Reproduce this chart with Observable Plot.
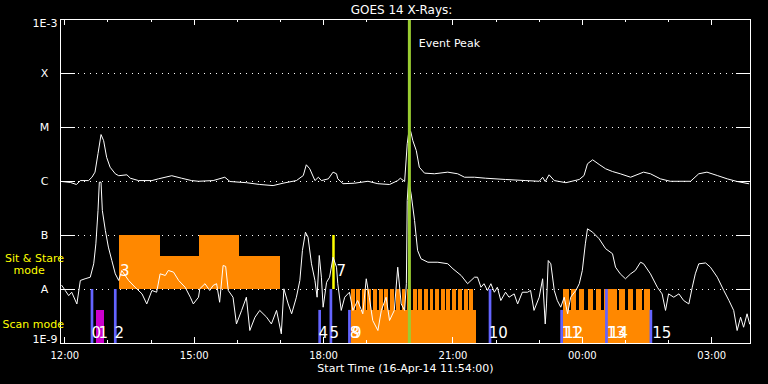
<!DOCTYPE html>
<html><head><meta charset="utf-8">
<script src="https://cdn.jsdelivr.net/npm/d3@7"></script>
<script src="https://cdn.jsdelivr.net/npm/@observablehq/plot@0.6"></script>
<style>html,body{margin:0;padding:0;background:#000;}</style>
</head><body><div id="chart"></div>
<script>
// time in hours since 16-Apr-14 12:00 ; flux in W/m^2
const longChannel = [[-0.07,1.0e-6],[0.13,9.6e-7],[0.27,8.8e-7],[0.36,1.04e-6],[0.55,1.04e-6],[0.63,1.2e-6],[0.70,1.49e-6],[0.77,3.3e-6],[0.84,7.4e-6],[0.90,5.7e-6],[0.97,2.8e-6],[1.05,1.84e-6],[1.17,1.39e-6],[1.25,1.28e-6],[1.44,1.33e-6],[1.52,1.15e-6],[1.71,1.04e-6],[2.02,1.04e-6],[2.17,1.12e-6],[2.48,1.28e-6],[2.71,1.15e-6],[2.94,1.04e-6],[3.10,1.01e-6],[3.44,1.04e-6],[3.71,1.2e-6],[3.83,1.0e-6],[4.21,9.5e-7],[4.52,8.8e-7],[4.83,8.4e-7],[5.06,9.3e-7],[5.37,1.04e-6],[5.53,1.29e-6],[5.60,2.04e-6],[5.68,1.72e-6],[5.80,1.04e-6],[5.88,1.2e-6],[5.95,1.04e-6],[6.11,1.12e-6],[6.22,1.49e-6],[6.30,1.39e-6],[6.33,1.12e-6],[6.45,9.1e-7],[6.72,9.3e-7],[7.03,1.01e-6],[7.26,9.1e-7],[7.53,8.8e-7],[7.72,1.04e-6],[7.78,1.15e-6],[7.88,1.0e-6],[7.94,5.0e-6],[7.97,7.6e-6],[8.02,8.5e-6],[8.07,5.7e-6],[8.15,3.75e-6],[8.22,1.84e-6],[8.34,1.43e-6],[8.57,1.39e-6],[8.88,1.49e-6],[9.11,1.39e-6],[9.27,1.2e-6],[9.50,1.2e-6],[9.76,1.15e-6],[10.22,1.09e-6],[10.69,1.04e-6],[11.00,1.01e-6],[11.08,1.2e-6],[11.14,1.0e-6],[11.23,1.33e-6],[11.35,1.04e-6],[11.62,9.5e-7],[11.93,1.09e-6],[12.04,1.29e-6],[12.12,2.13e-6],[12.24,2.52e-6],[12.39,2.07e-6],[12.54,1.72e-6],[12.70,1.53e-6],[12.88,1.39e-6],[13.12,1.2e-6],[13.42,1.49e-6],[13.58,1.39e-6],[13.81,1.12e-6],[14.04,1.01e-6],[14.51,1.01e-6],[14.70,1.39e-6],[14.89,1.49e-6],[15.13,1.29e-6],[15.36,1.12e-6],[15.59,1.0e-6],[15.86,9.1e-7]];

const shortChannel = [[-0.07,1.19e-8],[0.01,9.6e-9],[0.09,7.7e-9],[0.16,8.9e-9],[0.28,5.4e-9],[0.36,1.47e-8],[0.47,1.58e-8],[0.59,1.69e-8],[0.67,2.99e-8],[0.72,7.0e-8],[0.77,2.9e-7],[0.80,9.7e-7],[0.84,9.7e-7],[0.87,2.9e-7],[0.94,1.24e-7],[1.01,6.1e-8],[1.09,3.44e-8],[1.17,1.95e-8],[1.25,1.47e-8],[1.32,2.25e-8],[1.48,1.47e-8],[1.63,1.1e-8],[1.79,8.3e-9],[1.90,5.4e-9],[2.02,9.6e-9],[2.13,8.9e-9],[2.21,1.95e-8],[2.33,1.82e-8],[2.40,2.25e-8],[2.52,2.1e-8],[2.64,1.47e-8],[2.79,1.1e-8],[2.91,7.2e-9],[2.98,5.4e-9],[3.10,7.2e-9],[3.13,1.03e-8],[3.25,1.28e-8],[3.36,9.6e-9],[3.44,1.19e-8],[3.52,1.28e-8],[3.59,5.8e-9],[3.67,2.78e-8],[3.73,2.68e-8],[3.79,9.6e-9],[3.90,7.2e-9],[3.98,2.3e-9],[4.10,4.1e-9],[4.21,7.2e-9],[4.29,1.74e-9],[4.41,3.07e-9],[4.52,4.1e-9],[4.68,3.07e-9],[4.79,2.3e-9],[4.91,4.1e-9],[5.02,1.51e-9],[5.08,1.03e-8],[5.18,5.4e-9],[5.26,3.55e-9],[5.37,7.2e-9],[5.45,1.47e-8],[5.51,5.3e-8],[5.58,1.15e-7],[5.64,9.3e-8],[5.72,2.99e-8],[5.80,1.47e-8],[5.85,7.2e-9],[5.90,4.27e-8],[5.95,1.69e-8],[5.99,4.7e-9],[6.07,1.36e-8],[6.14,1.69e-8],[6.22,3.96e-8],[6.30,2.59e-8],[6.33,1.28e-8],[6.41,4.1e-9],[6.49,7.2e-9],[6.60,8.9e-9],[6.68,4.1e-9],[6.79,6.25e-9],[6.91,3.55e-9],[6.99,1.58e-8],[7.06,7.2e-9],[7.14,2.67e-9],[7.26,1.74e-9],[7.34,4.1e-9],[7.45,7.2e-9],[7.53,2.67e-9],[7.64,4.1e-9],[7.72,2.59e-8],[7.80,5.4e-9],[7.88,4.1e-9],[7.92,1.28e-8],[7.94,4.45e-7],[7.97,1.04e-6],[8.03,5.9e-7],[8.11,1.9e-7],[8.18,5.3e-8],[8.26,3.7e-8],[8.42,3.2e-8],[8.65,3.2e-8],[8.88,3.0e-8],[9.00,2.42e-8],[9.19,1.82e-8],[9.34,1.28e-8],[9.42,1.47e-8],[9.50,1.69e-8],[9.57,1.69e-8],[9.65,1.1e-8],[9.72,1.28e-8],[9.80,9.6e-9],[9.88,1.28e-8],[9.96,8.9e-9],[10.03,1.1e-8],[10.11,6.25e-9],[10.22,8.9e-9],[10.30,7.2e-9],[10.42,8.3e-9],[10.50,5.4e-9],[10.61,8.9e-9],[10.73,8.9e-9],[10.80,9.6e-9],[10.88,4.1e-9],[11.00,7.2e-9],[11.08,1.58e-8],[11.14,2.3e-9],[11.17,5.4e-9],[11.21,3.44e-8],[11.27,2.99e-8],[11.35,9.6e-9],[11.42,6.25e-9],[11.50,4.7e-9],[11.58,7.2e-9],[11.66,3.55e-9],[11.73,7.2e-9],[11.85,9.6e-9],[11.93,1.28e-8],[12.00,2.25e-8],[12.07,7.0e-8],[12.12,1.33e-7],[12.24,1.15e-7],[12.39,8.7e-8],[12.54,5.7e-8],[12.70,4.6e-8],[12.77,2.59e-8],[12.88,1.95e-8],[13.00,1.58e-8],[13.12,1.95e-8],[13.23,2.25e-8],[13.35,3.2e-8],[13.42,3.0e-8],[13.58,1.95e-8],[13.74,1.1e-8],[13.85,8.3e-9],[13.93,4.1e-9],[14.00,8.3e-9],[14.12,7.2e-9],[14.24,8.3e-9],[14.35,6.25e-9],[14.47,5.4e-9],[14.55,1.1e-8],[14.62,1.95e-8],[14.70,2.99e-8],[14.86,3.1e-8],[14.97,2.59e-8],[15.13,1.69e-8],[15.28,9.6e-9],[15.40,6.25e-9],[15.51,4.1e-9],[15.59,1.74e-9],[15.67,3.07e-9],[15.74,2.0e-9],[15.82,3.55e-9],[15.88,2.3e-9]];

const yLevels = [1e-3,1e-4,1e-5,1e-6,1e-7,1e-8,1e-9];
const yLabels = ["1E-3","X","M","C","B","A","1E-9"];
const xTickHours = [0,3,6,9,12,15];
const xTickLabels = ["12:00","15:00","18:00","21:00","00:00","03:00"];
const minorHours = [1,2,4,5,7,8,10,11,13,14];

// observation modes: [start, end, top]
const sitStareBlocks = [[1.27,2.21,1e-7],[2.21,3.13,4.1e-8],[3.13,4.06,1e-7],[4.06,5.00,4.1e-8]];
const scanBlocks = [[6.65,9.55,4.1e-9],[11.56,13.58,4.1e-9]];
const magentaBlocks = [[0.735,0.92,4.1e-9]];
const combTeeth = [[6.64,6.73],[6.77,6.86],[6.90,6.99],[7.03,7.12],[7.16,7.25],[7.29,7.38],[7.42,7.51],[7.56,7.65],[7.69,7.78],[7.82,7.91],[7.95,8.04],[8.08,8.17],[8.21,8.30],[8.34,8.43],[8.47,8.56],[8.60,8.69],[8.73,8.82],[8.86,8.95],[8.99,9.08],[9.13,9.22],[9.26,9.35],[9.39,9.48],
  [11.56,11.70],[11.76,11.86],[11.94,12.06],[12.14,12.25],[12.33,12.44],[12.52,12.81],[12.87,13.00],[13.06,13.19],[13.26,13.39],[13.45,13.58]];
const scanLines = [[0.63,1e-8],[1.17,1e-8],[5.91,4.1e-9],[6.17,1e-8],[6.60,4.1e-9],[9.86,1e-8],[11.52,4.1e-9],[12.56,1e-8],[13.59,4.1e-9]];
const stareLines = [[6.23,1e-7]];
const eventPeak = [7.99];
const scanNumbers = [["0",0.62],["1",0.78],["2",1.15],["4",5.88],["5",6.14],["8",6.61],["9",6.66],["10",9.83],["11",11.52],["12",11.58],["13",12.56],["14",12.62],["15",13.62]];
const stareNumbers = [["3",1.28],["7",6.30]];

const W=768,H=384,mt=19,mb=41,ml=60,mr=18;
const innerH=H-mt-mb, innerW=W-ml-mr;
const ORANGE="#ff8800", BLUE="#6464ff", MAG="#cc00cc", YEL="#ffff00", GREEN="#9acd32";
const inner = yLevels.slice(1,-1);
const crisp = {shapeRendering:"crispEdges"};

const chart = Plot.plot({
  width:W, height:H, marginTop:mt, marginBottom:mb, marginLeft:ml, marginRight:mr,
  style:{background:"black", color:"white", fontFamily:"DejaVu Sans", fontSize:"11px"},
  x:{domain:[-0.1,15.9], axis:null},
  y:{type:"log", domain:[1e-9,1e-3], axis:null},
  marks:[
    Plot.ruleY(inner, {stroke:"white", strokeDasharray:"1,5", insetLeft:18, insetRight:14, ...crisp}),
    Plot.rect(sitStareBlocks, {x1:d=>d[0], x2:d=>d[1], y1:1e-8, y2:d=>d[2], fill:ORANGE, ...crisp}),
    Plot.rect(scanBlocks, {x1:d=>d[0], x2:d=>d[1], y1:1e-9, y2:d=>d[2], fill:ORANGE, ...crisp}),
    Plot.rect(combTeeth, {x1:d=>d[0], x2:d=>d[1], y1:4.1e-9, y2:1e-8, fill:ORANGE, ...crisp}),
    Plot.rect(magentaBlocks, {x1:d=>d[0], x2:d=>d[1], y1:1e-9, y2:d=>d[2], fill:MAG, ...crisp}),
    Plot.ruleX(scanLines, {x:d=>d[0], y1:1e-9, y2:d=>d[1], stroke:BLUE, strokeWidth:2.7}),
    Plot.ruleX(stareLines, {x:d=>d[0], y1:1e-8, y2:d=>d[1], stroke:YEL, strokeWidth:2.5}),
    Plot.ruleY(inner, {stroke:"white", insetRight:innerW-15, ...crisp}),
    Plot.ruleY(inner, {stroke:"white", insetLeft:innerW-14, ...crisp}),
    Plot.ruleX(xTickHours, {stroke:"white", insetTop:innerH-6, ...crisp}),
    Plot.ruleX(xTickHours, {stroke:"white", insetBottom:innerH-6, ...crisp}),
    Plot.ruleX(minorHours, {stroke:"white", insetTop:innerH-3, ...crisp}),
    Plot.ruleX(minorHours, {stroke:"white", insetBottom:innerH-3, ...crisp}),
    Plot.line(shortChannel, {x:d=>d[0], y:d=>d[1], stroke:"white", strokeWidth:1}),
    Plot.line(longChannel, {x:d=>d[0], y:d=>d[1], stroke:"white", strokeWidth:1}),
    Plot.ruleX(eventPeak, {stroke:GREEN, strokeWidth:3}),
    Plot.frame({stroke:"white", ...crisp}),
    Plot.text(scanNumbers, {x:d=>d[1], y:1.53e-9, text:d=>d[0], textAnchor:"start", fill:"white", fontSize:15}),
    Plot.text(stareNumbers, {x:d=>d[1], y:2.15e-8, text:d=>d[0], textAnchor:"start", fill:"white", fontSize:15}),
    Plot.text(["GOES 14 X-Rays:"], {text:d=>d, frameAnchor:"top", lineAnchor:"middle", dy:-9, dx:-4, fontSize:12, fill:"white"}),
    Plot.text([["Event Peak",8.21,3.6e-4]], {x:d=>d[1], y:d=>d[2], text:d=>d[0], textAnchor:"start", fontSize:11, fill:"white"}),
    Plot.text(xTickHours, {x:d=>d, text:(d,i)=>xTickLabels[i], frameAnchor:"bottom", lineAnchor:"middle", dy:12, fontSize:10, fill:"white"}),
    Plot.text(["Start Time (16-Apr-14 11:54:00)"], {text:d=>d, frameAnchor:"bottom", lineAnchor:"middle", dy:25, fontSize:11, fill:"white"}),
    Plot.text(inner, {y:d=>d, text:d=>yLabels[yLevels.indexOf(d)], frameAnchor:"left", dx:-16, textAnchor:"middle", fontSize:11, fill:"white"}),
    Plot.text([yLevels[0]], {y:d=>d, text:d=>yLabels[0], frameAnchor:"left", dx:-3, dy:4, textAnchor:"end", fontSize:11, fill:"white"}),
    Plot.text([yLevels[6]], {y:d=>d, text:d=>yLabels[6], frameAnchor:"left", dx:-3, dy:-4, textAnchor:"end", fontSize:11, fill:"white"}),
    Plot.text([["Sit & Stare",3.75e-8]], {y:d=>d[1], text:d=>d[0], frameAnchor:"left", dx:-26, textAnchor:"middle", fontSize:11, fill:YEL}),
    Plot.text([["mode",2.25e-8]], {y:d=>d[1], text:d=>d[0], frameAnchor:"left", dx:-47, textAnchor:"start", fontSize:11, fill:YEL}),
    Plot.text([["Scan mode",2.25e-9]], {y:d=>d[1], text:d=>d[0], frameAnchor:"left", dx:-58, textAnchor:"start", fontSize:11, fill:YEL})
  ]
});
document.getElementById("chart").appendChild(chart);
</script></body></html>
